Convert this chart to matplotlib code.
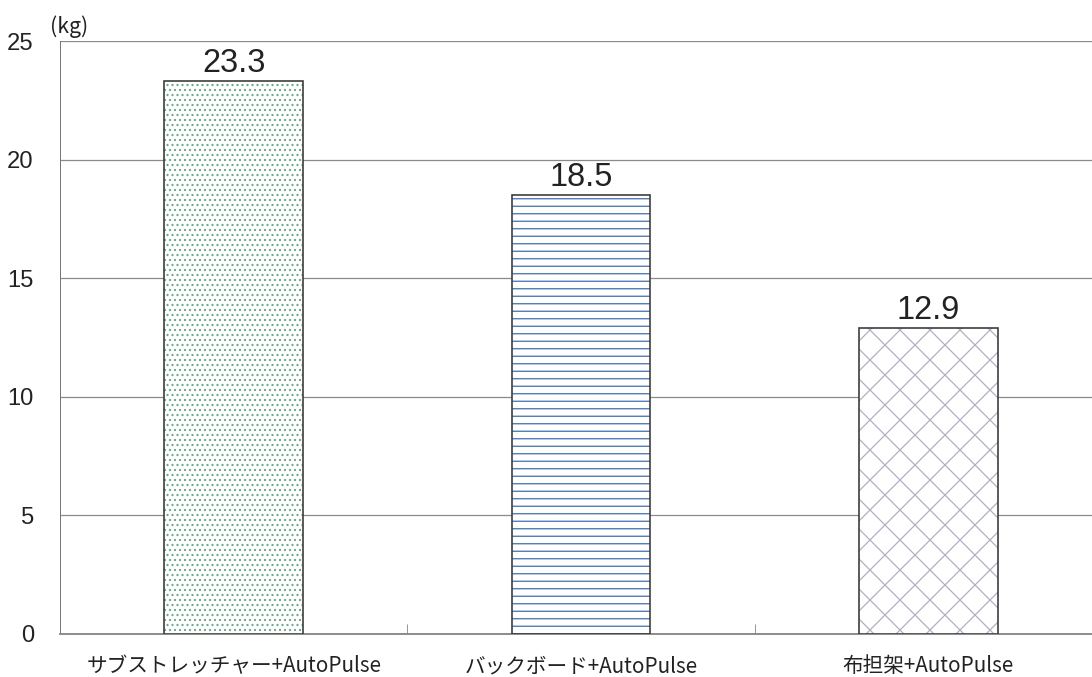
import matplotlib
matplotlib.use('Agg')
import matplotlib.pyplot as plt
import matplotlib.font_manager as fm

# データ
categories = ['サブストレッチャー+AutoPulse', 'バックボード+AutoPulse', '布担架+AutoPulse']
values = [23.3, 18.5, 12.9]
y_ticks = [0, 5, 10, 15, 20, 25]
unit_label = '(kg)'

hatches = ['...', '--', 'x']
hatch_colors = ['#6aa88a', '#3d70b0', '#b0b0c0']

installed = {f.name for f in fm.fontManager.ttflist}
num_fonts = [f for f in ['Liberation Sans Narrow', 'Liberation Sans'] if f in installed]
plt.rcParams['font.family'] = ['Noto Sans CJK JP'] + num_fonts + ['DejaVu Sans']
plt.rcParams['hatch.linewidth'] = 1.0

dpi = 90
fig = plt.figure(figsize=(1092 / dpi, 677 / dpi), dpi=dpi)
ax = fig.add_axes([60 / 1092, 1 - 634 / 677, 1042 / 1092, 593 / 677])

x = range(len(categories))
for i, v in enumerate(values):
    # 模様の層と枠の層
    ax.bar(i, v, width=0.4, color='white', edgecolor=hatch_colors[i],
           hatch=hatches[i], linewidth=0, zorder=3)
    ax.bar(i, v, width=0.4, fill=False, edgecolor='#3a3a3a',
           linewidth=1.3, zorder=4)
    ax.text(i, v + 0.1, f'{v}', ha='center', va='bottom', fontsize=26,
            color='#222222', family=num_fonts + ['DejaVu Sans'])

ax.set_xlim(-0.5, 2.5)
ax.set_ylim(0, 25)
ax.set_yticks(y_ticks)
ax.set_yticklabels([str(t) for t in y_ticks], family=num_fonts + ['DejaVu Sans'],
                   fontsize=19, color='#222222')
ax.tick_params(axis='y', length=0, pad=21)

ax.set_xticks(list(x))
ax.set_xticklabels(categories, fontsize=16.5, color='#222222')
ax.tick_params(axis='x', length=0, pad=17)
ax.set_xticks([0.5, 1.5], minor=True)
ax.tick_params(axis='x', which='minor', direction='in', length=8, color='#777777')

ax.grid(axis='y', color='#8a8a8a', linewidth=1.0, zorder=0)
ax.set_axisbelow(True)
for s in ['top', 'right']:
    ax.spines[s].set_visible(False)
ax.spines['left'].set_color('#777777')
ax.spines['bottom'].set_color('#888888')
ax.spines['bottom'].set_linewidth(1.5)

fig.text(50 / 1092, 1 - 27 / 677, unit_label, fontsize=17, color='#222222',
         va='center', ha='left')

fig.savefig('out.png', dpi=dpi)
